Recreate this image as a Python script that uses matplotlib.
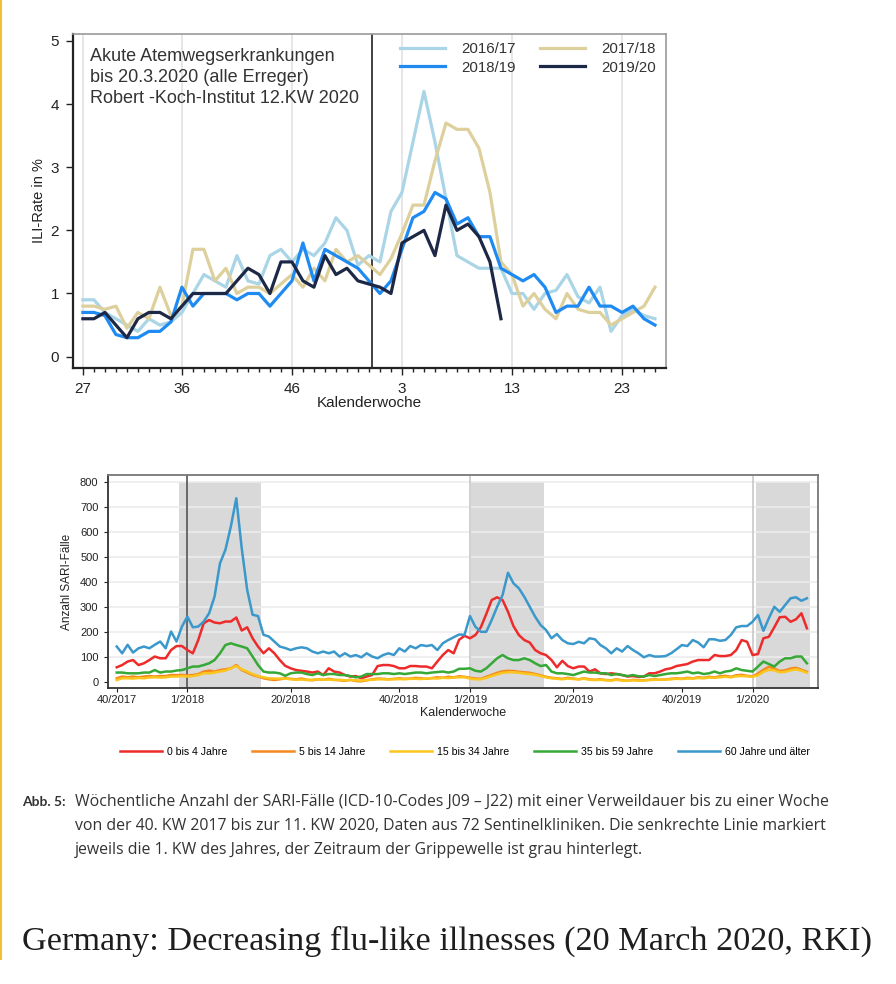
import numpy as np
import matplotlib
matplotlib.use('Agg')
import matplotlib.pyplot as plt
from matplotlib.lines import Line2D

plt.rcParams['font.family'] = ['Liberation Sans', 'DejaVu Sans']

# ---- top chart: ILI rate per calendar week (week 27 .. week 25) ----
week_labels = ['27', '36', '46', '3', '13', '23']
week_label_pos = [0, 9, 19, 29, 39, 49]
season_names = ['2016/17', '2017/18', '2018/19', '2019/20']

ili_1617 = [0.9, 0.9, 0.7, 0.6, 0.5, 0.4, 0.6, 0.5, 0.55, 0.7,
            1.0, 1.3, 1.2, 1.1, 1.6, 1.2, 1.15, 1.6, 1.7, 1.5,
            1.7, 1.6, 1.8, 2.2, 2.0, 1.45, 1.6, 1.5,
            2.3, 2.6, 3.4, 4.2, 3.4, 2.5, 1.6, 1.5, 1.4, 1.4,
            1.4, 1.0, 1.0, 0.75, 1.0, 1.05, 1.3, 0.95, 0.85, 1.1,
            0.4, 0.65, 0.75, 0.65, 0.6]
ili_1718 = [0.8, 0.8, 0.75, 0.8, 0.45, 0.7, 0.6, 1.1, 0.65, 0.8,
            1.7, 1.7, 1.2, 1.4, 1.0, 1.1, 1.1, 1.0, 1.15, 1.3,
            1.1, 1.4, 1.2, 1.7, 1.5, 1.6, 1.45, 1.3,
            1.55, 1.95, 2.4, 2.4, 3.1, 3.7, 3.6, 3.6, 3.3, 2.6,
            1.5, 1.3, 0.8, 1.0, 0.75, 0.6, 1.0, 0.75, 0.7, 0.7,
            0.5, 0.6, 0.7, 0.8, 1.1]
ili_1819 = [0.7, 0.7, 0.65, 0.35, 0.3, 0.3, 0.4, 0.4, 0.55, 1.1,
            0.8, 1.0, 1.0, 1.0, 0.9, 1.0, 1.0, 0.8, 1.0, 1.2,
            1.8, 1.2, 1.7, 1.6, 1.5, 1.4, 1.2, 1.0, 1.2,
            1.7, 2.2, 2.3, 2.6, 2.5, 2.1, 2.2, 1.9, 1.9, 1.4,
            1.3, 1.2, 1.3, 1.1, 0.7, 0.8, 0.8, 1.1, 0.8, 0.8,
            0.7, 0.8, 0.6, 0.5]
ili_1920 = [0.6, 0.6, 0.7, 0.5, 0.3, 0.6, 0.7, 0.7, 0.6, 0.8,
            1.0, 1.0, 1.0, 1.0, 1.2, 1.4, 1.3, 1.0, 1.5, 1.5,
            1.2, 1.1, 1.6, 1.3, 1.4, 1.2, 1.15, 1.1, 1.0,
            1.8, 1.9, 2.0, 1.6, 2.4, 2.0, 2.1, 1.9, 1.5, 0.6]
ili_colors = ['#a9d5e6', '#ddd09c', '#1f8bf2', '#1c2846']

# ---- bottom chart: SARI cases per week (40/2017 .. 11/2020) ----
sari_tick_pos = [0, 13, 32, 52, 65, 84, 104, 117]
sari_tick_labels = ['40/2017', '1/2018', '20/2018', '40/2018', '1/2019',
                    '20/2019', '40/2019', '1/2020']
flu_waves = [(11.5, 26.6), (65.2, 78.6), (117.6, 127.6)]
year_starts = [13, 65, 117]

age_names = ['0 bis 4 Jahre', '5 bis 14 Jahre', '15 bis 34 Jahre',
             '35 bis 59 Jahre', '60 Jahre und älter']
age_colors = ['#ee2b2b', '#f5891f', '#fcc51e', '#35a835', '#3a98cb']

sari_0_4 = [60, 69, 83, 89, 69, 76, 89, 103, 96, 96,
            129, 145, 145, 129, 116, 169, 236, 249, 239, 236,
            243, 243, 259, 207, 220, 176, 143, 116, 136, 116,
            89, 66, 56, 49, 46, 43, 39, 43, 29, 56,
            43, 39, 29, 23, 25, 16, 23, 29, 65, 69,
            69, 65, 56, 56, 65, 65, 63, 63, 56, 83,
            109, 129, 116, 170, 186, 176, 189, 220, 273, 329,
            340, 329, 282, 225, 189, 169, 159, 129, 116, 109,
            89, 60, 86, 65, 56, 63, 63, 43, 52, 36,
            33, 36, 33, 29, 23, 25, 21, 23, 36, 36,
            43, 52, 56, 65, 69, 73, 83, 89, 89, 89,
            109, 105, 105, 109, 129, 169, 162, 109, 113, 176,
            182, 220, 260, 262, 242, 252, 276, 216]
sari_5_14 = [16, 23, 20, 23, 20, 23, 25, 23, 25, 25,
             29, 29, 29, 27, 29, 33, 43, 47, 43, 49,
             52, 56, 69, 49, 39, 29, 23, 16, 12, 9,
             12, 16, 14, 12, 15, 10, 8, 12, 10, 14,
             10, 8, 6, 10, 5, 4, 8, 12, 15, 14,
             12, 14, 16, 14, 15, 18, 16, 14, 17, 20,
             18, 22, 20, 24, 22, 18, 15, 14, 22, 30,
             38, 44, 46, 45, 42, 40, 38, 33, 28, 22,
             18, 16, 14, 18, 15, 12, 16, 12, 10, 12,
             9, 8, 12, 8, 6, 10, 8, 8, 10, 12,
             10, 12, 14, 16, 14, 18, 16, 20, 18, 22,
             20, 24, 26, 22, 28, 30, 26, 24, 35, 50,
             62, 55, 45, 48, 55, 58, 50, 42]
sari_15_34 = [9, 16, 16, 15, 17, 16, 19, 20, 19, 20,
              23, 23, 25, 23, 25, 29, 36, 36, 39, 43,
              47, 56, 65, 52, 43, 33, 25, 20, 16, 15,
              15, 15, 12, 10, 11, 9, 10, 12, 10, 11,
              9, 10, 8, 9, 8, 7, 9, 10, 12, 12,
              11, 12, 13, 12, 14, 14, 13, 15, 16, 15,
              18, 17, 19, 20, 20, 15, 12, 12, 18, 25,
              32, 38, 40, 40, 38, 35, 33, 30, 25, 20,
              16, 14, 12, 15, 13, 12, 14, 10, 9, 10,
              8, 7, 10, 7, 6, 8, 7, 7, 9, 10,
              10, 11, 12, 14, 13, 15, 15, 17, 16, 19,
              18, 20, 22, 20, 24, 25, 24, 22, 28, 42,
              50, 48, 40, 42, 48, 52, 46, 38]
sari_35_59 = [39, 39, 36, 36, 36, 39, 39, 49, 39, 43,
              43, 47, 49, 56, 63, 63, 69, 76, 89, 116,
              149, 156, 149, 143, 136, 103, 69, 43, 39, 39,
              36, 26, 36, 39, 39, 33, 29, 36, 29, 33,
              33, 29, 29, 25, 20, 23, 33, 33, 33, 36,
              36, 33, 36, 33, 36, 39, 39, 36, 39, 41,
              43, 39, 43, 54, 54, 56, 46, 43, 56, 76,
              96, 109, 96, 89, 89, 96, 89, 76, 65, 69,
              43, 36, 36, 33, 29, 36, 43, 39, 39, 36,
              36, 29, 33, 29, 25, 29, 24, 23, 29, 25,
              29, 33, 36, 36, 39, 43, 36, 39, 33, 36,
              43, 36, 43, 46, 56, 49, 46, 43, 63, 83,
              73, 63, 83, 96, 96, 103, 103, 76]
sari_60 = [143, 116, 150, 119, 136, 143, 136, 150, 163, 136,
           203, 163, 223, 263, 220, 223, 243, 276, 343, 476,
           530, 623, 736, 536, 370, 270, 265, 190, 183, 163,
           143, 137, 129, 136, 140, 136, 123, 116, 123, 116,
           123, 103, 116, 103, 109, 100, 116, 103, 96, 109,
           116, 109, 136, 123, 145, 136, 149, 145, 149, 129,
           156, 169, 180, 191, 190, 265, 222, 202, 202, 249,
           302, 349, 438, 396, 376, 342, 302, 262, 229, 209,
           176, 193, 169, 156, 153, 162, 156, 176, 172, 149,
           136, 116, 136, 123, 145, 129, 116, 100, 109, 103,
           103, 105, 116, 132, 149, 145, 169, 159, 140, 172,
           172, 166, 169, 189, 220, 225, 225, 242, 269, 206,
           256, 302, 282, 309, 336, 340, 326, 336]
sari_series = [sari_0_4, sari_5_14, sari_15_34, sari_35_59, sari_60]

caption_lines = [
    'Wöchentliche Anzahl der SARI-Fälle (ICD-10-Codes J09 – J22) mit einer Verweildauer bis zu einer Woche',
    'von der 40. KW 2017 bis zur 11. KW 2020, Daten aus 72 Sentinelkliniken. Die senkrechte Linie markiert',
    'jeweils die 1. KW des Jahres, der Zeitraum der Grippewelle ist grau hinterlegt.',
]
title_text = 'Germany: Decreasing flu-like illnesses (20 March 2020, RKI)'

W, H = 896, 984
fig = plt.figure(figsize=(W / 100, H / 100), dpi=100)
fig.patch.set_facecolor('white')

# yellow page edge on the left
fig.add_artist(Line2D([0.0015, 0.0015], [0.025, 1.0], color='#f0c23a', lw=1.5,
                      transform=fig.transFigure))

# ================= top chart =================
ax1 = fig.add_axes([73 / W, 1 - 368 / H, (666 - 73) / W, (368 - 34) / H])
for p in week_label_pos:
    ax1.axvline(p, color='#e4e4e4', lw=1.3, zorder=0)
ax1.axvline(26.3, color='#333333', lw=1.3, zorder=1)

lines = []
for name, vals, col in zip(season_names, [ili_1617, ili_1718, ili_1819, ili_1920], ili_colors):
    ln, = ax1.plot(np.arange(len(vals)), vals, color=col, lw=2.3, label=name, zorder=2)
    lines.append(ln)

ax1.set_xlim(-0.9, 53)
ax1.set_ylim(-0.18, 5.11)
ax1.set_xticks(week_label_pos)
ax1.set_xticklabels(week_labels)
ax1.set_xticks(np.arange(0, 53), minor=True)
ax1.set_yticks([0, 1, 2, 3, 4, 5])
ax1.tick_params(axis='both', labelsize=11, colors='#222222', length=5, width=1)
ax1.tick_params(axis='x', which='minor', length=3, width=1, colors='#222222')
ax1.tick_params(axis='x', pad=5)
ax1.tick_params(axis='y', pad=5)
ax1.set_xlabel('Kalenderwoche', fontsize=11, color='#222222', labelpad=0)
ax1.set_ylabel('ILI-Rate in %', fontsize=10.5, color='#222222', labelpad=3)
for s in ['top', 'right']:
    ax1.spines[s].set_color('#999999')
    ax1.spines[s].set_linewidth(1.2)
for s in ['left', 'bottom']:
    ax1.spines[s].set_color('#222222')
    ax1.spines[s].set_linewidth(1.6)

ax1.text(17 / 593, 1 - 14 / 334, 'Akute Atemwegserkrankungen\nbis 20.3.2020 (alle Erreger)\nRobert -Koch-Institut 12.KW 2020',
         transform=ax1.transAxes, fontsize=13, color='#333333', va='top', ha='left',
         linespacing=1.32)
# row-wise order: 2016/17 2017/18 / 2018/19 2019/20
order = [0, 2, 1, 3]
ax1.legend([lines[k] for k in order], [season_names[k] for k in order],
           loc='upper left', bbox_to_anchor=(0.535, 1.005), ncol=2, frameon=False,
           fontsize=10.8, handlelength=3.0, columnspacing=1.6, labelspacing=0.3,
           handletextpad=1.1, borderaxespad=0.25, labelcolor='#333333')

# ================= bottom chart =================
ax2 = fig.add_axes([107.5 / W, 1 - 688.3 / H, (818.3 - 107.5) / W, (688.3 - 475) / H])
for a, b in flu_waves:
    ax2.axvspan(a, b, ymin=0, ymax=(800 + 24) / (829 + 24), color='#d9d9d9', lw=0, zorder=0)
for yv in range(100, 900, 100):
    ax2.axhline(yv, color='#ececec', lw=1.2, zorder=0.5)
for i, ys in enumerate(year_starts):
    ax2.axvline(ys, color='#555555' if i == 0 else '#c8c8c8', lw=1.2, zorder=0.6)

for name, vals, col in zip(age_names, sari_series, age_colors):
    ax2.plot(np.arange(len(vals)), vals, color=col, lw=1.8, label=name, zorder=2)

ax2.set_xlim(-1.7, 129.1)
ax2.set_ylim(-24, 829)
ax2.set_xticks(sari_tick_pos)
ax2.set_xticklabels(sari_tick_labels)
ax2.set_yticks(range(0, 900, 100))
ax2.tick_params(axis='both', labelsize=8, colors='#222222', length=3, width=0.8)
ax2.tick_params(axis='x', pad=2)
ax2.set_xlabel('Kalenderwoche', fontsize=9, color='#222222', labelpad=1)
ax2.set_ylabel('Anzahl SARI-Fälle', fontsize=8.5, color='#222222', labelpad=5)
for s in ax2.spines.values():
    s.set_color('#777777')
    s.set_linewidth(1.3)
for s in ['left', 'bottom']:
    ax2.spines[s].set_color('#333333')

fig.legend(handles=ax2.get_lines()[-5:], labels=age_names, loc='center',
           bbox_to_anchor=(465 / W, 1 - 752 / H), ncol=5, frameon=False,
           fontsize=7.6, handlelength=4.0, columnspacing=2.3, handletextpad=0.5)

# ================= caption and title =================
fig.text(22 / W, 1 - 802 / H, 'Abb. 5:', fontsize=10, fontweight='bold', family='Lato',
         color='#333333', va='center', ha='left')
for k, line in enumerate(caption_lines):
    fig.text(75 / W, 1 - (802 + 24 * k) / H, line, fontsize=11.4, family='Open Sans',
             color='#333333', va='center', ha='left')

fig.text(22 / W, 1 - 941 / H, title_text, fontsize=24.7, family='Liberation Serif',
         color='#1e1e1e', va='center', ha='left')

fig.savefig('out.png', dpi=100, facecolor='white')
